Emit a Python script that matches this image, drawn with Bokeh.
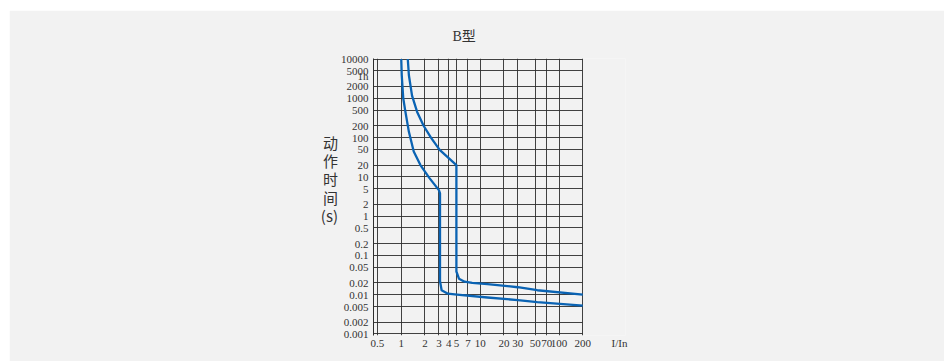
from bokeh.plotting import figure
from bokeh.layouts import column, row
from bokeh.models import Range1d, FixedTicker, CustomJSTickFormatter, Spacer
from bokeh.embed import file_html
from bokeh.resources import INLINE

# ---- data -------------------------------------------------------------
x_ticks = [0.5, 1, 2, 3, 4, 5, 7, 10, 20, 30, 50, 70, 100, 200]
x_labels = ["0.5", "1", "2", "3", "4", "5", "7", "10", "20", "30", "50", "70", "100", "200"]

y_ticks = [10000, 5000, 3600, 2000, 1000, 500, 200, 100, 50, 20, 10, 5, 2, 1,
           0.5, 0.2, 0.1, 0.05, 0.02, 0.01, 0.005, 0.002, 0.001]
y_labels = ["10000", "5000", "1h", "2000", "1000", "500", "200", "100", "50", "20", "10", "5", "2", "1",
            "0.5", "0.2", "0.1", "0.05", "0.02", "0.01", "0.005", "0.002", "0.001"]
y_grid = [10000, 5000, 2000, 1000, 500, 200, 100, 50, 20, 10, 5, 2, 1,
          0.5, 0.2, 0.1, 0.05, 0.02, 0.01, 0.005, 0.002, 0.001]

# lower (left) boundary curve: I/In vs tripping time (s)
curve_min_I = [1.00, 1.015, 1.06, 1.13, 1.25, 1.44, 1.75, 2.28, 3.0, 3.1, 3.1, 3.25, 3.9, 5.1, 12.4, 30, 53, 200]
curve_min_t = [10000, 3850, 1000, 450, 140, 44, 20, 9.3, 4.6, 3.8, 0.022, 0.013, 0.0106, 0.0100, 0.0085, 0.0073, 0.0065, 0.0053]

# upper (right) boundary curve
curve_max_I = [1.21, 1.25, 1.37, 1.59, 1.92, 2.38, 3.07, 5.0, 5.0, 5.39, 6.35, 7.92, 12.4, 30, 53, 200]
curve_max_t = [10000, 3850, 1170, 450, 200, 100, 48.5, 20, 0.039, 0.0256, 0.0215, 0.020, 0.0187, 0.0155, 0.013, 0.010]

title_text = "B型"
y_title = "动\n作\n时\n间\n(s)"
x_title = "I/In"

# ---- layout numbers ---------------------------------------------------
PX_X = 78.9            # px per decade, x
PX_Y = 39.28           # px per decade, y
FRAME_W = 252
FRAME_H = 277
x_lo = 0.445
x_hi = x_lo * 10 ** (FRAME_W / PX_X)
y_lo = 0.001 / 10 ** (1.5 / PX_Y)
y_hi = 10000 * 10 ** (0.5 / PX_Y)
x_title_at = x_lo * 10 ** (246 / PX_X)   # where the "I/In" text sits on the x axis row

BG = "#f2f2f2"
INK = "#333333"
GRID = "#2e2e2e"
BLUE = "#0a63b3"
NUM_FONT = "Liberation Serif"

p = figure(width=935, height=351,
           x_axis_type="log", y_axis_type="log",
           x_range=Range1d(x_lo, x_hi), y_range=Range1d(y_lo, y_hi),
           min_border_left=364, min_border_right=935 - 364 - FRAME_W,
           min_border_top=48, min_border_bottom=351 - 48 - FRAME_H,
           output_backend="svg", toolbar_location=None)

p.background_fill_color = BG
p.border_fill_color = BG
p.outline_line_color = None

# title (a blank second line lifts it to the reference height)
p.title.text = title_text + "\n"
p.title.text_font = "Liberation Serif, Noto Sans CJK SC"
p.title.text_font_size = "14px"
p.title.text_font_style = "normal"
p.title.text_color = INK
p.title.text_line_height = 0.87
p.title.align = "left"
p.title.offset = 79
p.title.standoff = 2

fmt_code = """
for (let i = 0; i < vals.length; i++) {
  if (Math.abs(Math.log(tick / vals[i])) < 1e-6) { return labs[i]; }
}
return "";
"""
p.xaxis.ticker = FixedTicker(ticks=x_ticks + [x_title_at])
p.xaxis.formatter = CustomJSTickFormatter(args=dict(vals=x_ticks + [x_title_at], labs=x_labels + [x_title]),
                                          code=fmt_code)
p.yaxis.ticker = FixedTicker(ticks=y_ticks)
p.yaxis.formatter = CustomJSTickFormatter(args=dict(vals=y_ticks, labs=y_labels), code=fmt_code)

for ax in (p.xaxis, p.yaxis):
    ax.major_tick_line_color = None
    ax.minor_tick_line_color = None
    ax.major_tick_out = 0
    ax.major_tick_in = 0
    ax.major_label_text_font = NUM_FONT
    ax.major_label_text_font_size = "11px"
    ax.major_label_text_color = INK
p.xaxis.axis_line_color = None
p.yaxis.axis_line_color = GRID
p.xaxis.major_label_standoff = 1
p.yaxis.major_label_standoff = 5

# vertical stacked y title
p.yaxis.axis_label = y_title + "\n\n"
p.yaxis.axis_label_orientation = "horizontal"
p.yaxis.axis_label_text_font = "Noto Sans CJK SC"
p.yaxis.axis_label_text_font_size = "15px"
p.yaxis.axis_label_text_font_style = "normal"
p.yaxis.axis_label_text_color = INK
p.yaxis.axis_label_text_line_height = 0.87
p.yaxis.axis_label_text_align = "center"
p.yaxis.axis_label_standoff = 0

# grid
p.xgrid.ticker = FixedTicker(ticks=x_ticks)
p.ygrid.ticker = FixedTicker(ticks=y_grid)
p.ygrid.cross_bounds = (x_lo, 200)
for g in (p.xgrid, p.ygrid):
    g.grid_line_color = GRID
    g.grid_line_width = 1
    g.grid_line_alpha = 0.9

# curves
p.line(curve_min_I, curve_min_t, line_color=BLUE, line_width=2.3, line_join="round")
p.line(curve_max_I, curve_max_t, line_color=BLUE, line_width=2.3, line_join="round")

layout = column(Spacer(height=10), row(Spacer(width=9), p))
open("out.html", "w").write(file_html(layout, INLINE))
